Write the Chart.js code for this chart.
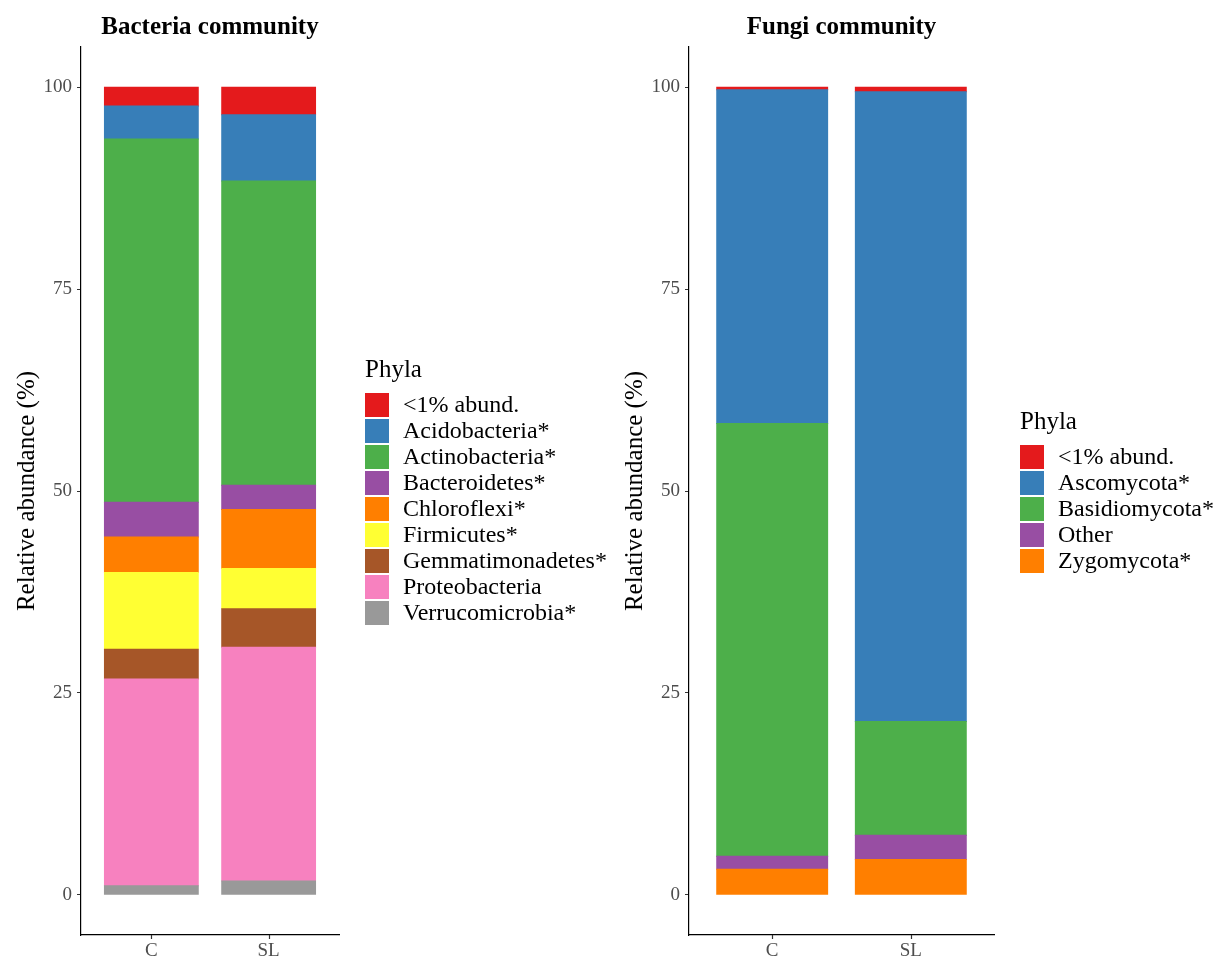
<!DOCTYPE html>
<html>
<head>
<meta charset="utf-8">
<title>Bacteria and fungi community composition</title>
<script src="https://cdn.jsdelivr.net/npm/chart.js@4.4.1/dist/chart.umd.min.js"></script>
<style>
  html, body { margin: 0; padding: 0; background: #ffffff; }
  #wrap { position: relative; width: 1217px; height: 960px; overflow: hidden; }
  .panel { position: absolute; top: 0; height: 960px; }
  #bacPanel { left: 0; width: 608px; }
  #funPanel { left: 608px; width: 609px; }
  canvas { display: block; }
</style>
</head>
<body>
<div id="wrap">
  <div class="panel" id="bacPanel"><canvas id="bacteriaChart" width="608" height="960"></canvas></div>
  <div class="panel" id="funPanel"><canvas id="fungiChart" width="609" height="960"></canvas></div>
</div>
<script>
// ---- shared categories and axis ticks ----
const samples = ['C', 'SL'];
const yTickValues = [0, 25, 50, 75, 100];

// ---- bacteria: relative abundance (%) per sample [C, SL] ----
const bacPhyla = ['<1% abund.', 'Acidobacteria*', 'Actinobacteria*', 'Bacteroidetes*', 'Chloroflexi*',
                  'Firmicutes*', 'Gemmatimonadetes*', 'Proteobacteria', 'Verrucomicrobia*'];
const bacColors = ['#E41A1C', '#377EB8', '#4DAF4A', '#984EA3', '#FF7F00',
                   '#FFFF33', '#A65628', '#F781BF', '#999999'];
const bacLowAbund        = [2.3, 3.4];
const bacAcidobacteria   = [4.1, 8.2];
const bacActinobacteria  = [45.0, 37.7];
const bacBacteroidetes   = [4.3, 3.0];
const bacChloroflexi     = [4.4, 7.3];
const bacFirmicutes      = [9.5, 5.0];
const bacGemmatimonadetes = [3.7, 4.75];
const bacProteobacteria  = [25.6, 28.95];
const bacVerrucomicrobia = [1.1, 1.7];
const bacValues = [bacLowAbund, bacAcidobacteria, bacActinobacteria, bacBacteroidetes, bacChloroflexi,
                   bacFirmicutes, bacGemmatimonadetes, bacProteobacteria, bacVerrucomicrobia];

// ---- fungi: relative abundance (%) per sample [C, SL] ----
const funPhyla = ['<1% abund.', 'Ascomycota*', 'Basidiomycota*', 'Other', 'Zygomycota*'];
const funColors = ['#E41A1C', '#377EB8', '#4DAF4A', '#984EA3', '#FF7F00'];
const funLowAbund     = [0.3, 0.55];
const funAscomycota   = [41.35, 78.0];
const funBasidiomycota = [53.6, 14.1];
const funOther        = [1.6, 3.0];
const funZygomycota   = [3.15, 4.35];
const funValues = [funLowAbund, funAscomycota, funBasidiomycota, funOther, funZygomycota];

const SERIF = '"Liberation Serif", "Times New Roman", Times, serif';

// Stacked datasets: the first legend entry sits on top of the stack,
// so datasets are added bottom-up (reverse of legend order).
function buildDatasets(names, colors, values) {
  const sets = names.map((name, i) => ({
    label: name,
    backgroundColor: colors[i],
    borderWidth: 0,
    inflateAmount: 0.5,
    data: values[i].map((v, j) => ({ x: j + 1, y: v })),
    categoryPercentage: 1.0,
    barPercentage: 0.8
  }));
  return sets.reverse();
}

// Short tick marks under the sample positions on the x axis.
const sampleTicks = {
  id: 'sampleTicks',
  afterDraw(chart) {
    const { ctx, chartArea, scales } = chart;
    ctx.save();
    ctx.strokeStyle = '#333333';
    ctx.lineWidth = 1.2;
    ctx.beginPath();
    samples.forEach((s, i) => {
      const px = Math.round(scales.x.getPixelForValue(i + 1)) + 0.5;
      ctx.moveTo(px, chartArea.bottom);
      ctx.lineTo(px, chartArea.bottom + 4);
    });
    ctx.stroke();
    ctx.restore();
  }
};

// Legend drawn to the right of the plot panel, in legend (top-first) order.
const phylaLegend = {
  id: 'phylaLegend',
  afterDraw(chart) {
    const { ctx, chartArea } = chart;
    const items = chart.data.datasets.slice().reverse();
    const pitch = 26, box = 24;
    const mid = (chartArea.top + chartArea.bottom) / 2;
    const x = chartArea.right + 26;
    const top = mid - items.length * pitch / 2 + 19;
    ctx.save();
    ctx.fillStyle = '#000000';
    ctx.textAlign = 'left';
    ctx.textBaseline = 'alphabetic';
    ctx.font = '25px ' + SERIF;
    ctx.fillText('Phyla', x, top - 16);
    ctx.font = '24px ' + SERIF;
    ctx.textBaseline = 'middle';
    items.forEach((ds, i) => {
      const y = top + i * pitch;
      ctx.fillStyle = ds.backgroundColor;
      ctx.fillRect(x, y, box, box);
      ctx.fillStyle = '#000000';
      ctx.fillText(ds.label, x + 38, y + box / 2 + 1);
    });
    ctx.restore();
  }
};

function makeChart(canvasId, titleText, names, colors, values, rightPad) {
  return new Chart(document.getElementById(canvasId), {
    type: 'bar',
    data: { datasets: buildDatasets(names, colors, values) },
    plugins: [sampleTicks, phylaLegend],
    options: {
      responsive: false,
      animation: false,
      devicePixelRatio: 1,
      layout: { padding: { top: 0, left: 0, bottom: 0, right: rightPad } },
      plugins: {
        legend: { display: false },
        tooltip: { enabled: false },
        title: {
          display: true,
          text: titleText,
          fullSize: false,
          color: '#000000',
          font: { family: SERIF, size: 25, weight: 'bold', lineHeight: 1.2 },
          padding: { top: 13, bottom: 4 }
        }
      },
      scales: {
        x: {
          type: 'linear',
          stacked: true,
          min: 0.4,
          max: 2.6,
          offset: false,
          afterBuildTicks(scale) { scale.ticks = samples.map((s, i) => ({ value: i + 1 })); },
          afterFit(scale) { scale.height = 25; },
          grid: { display: false, offset: false, drawOnChartArea: false, drawTicks: false },
          border: { display: true, color: '#000000', width: 1.2 },
          ticks: {
            color: '#4D4D4D',
            padding: 5,
            maxRotation: 0,
            autoSkip: false,
            font: { family: SERIF, size: 19 },
            callback: (v) => samples[Math.round(v) - 1]
          }
        },
        y: {
          type: 'linear',
          stacked: true,
          min: -5,
          max: 105,
          afterBuildTicks(scale) { scale.ticks = yTickValues.map(v => ({ value: v })); },
          afterFit(scale) { scale.width = 81; },
          grid: { display: true, offset: false, drawOnChartArea: false, drawTicks: true, tickLength: 4, color: '#333333', lineWidth: 1 },
          border: { display: true, color: '#000000', width: 1.2 },
          ticks: {
            color: '#4D4D4D',
            padding: 5,
            font: { family: SERIF, size: 19 },
            callback: (v) => String(v)
          },
          title: {
            display: true,
            text: 'Relative abundance (%)',
            color: '#000000',
            font: { family: SERIF, size: 25, lineHeight: 1.2 },
            padding: { top: 12, bottom: 0 }
          }
        }
      }
    }
  });
}

makeChart('bacteriaChart', 'Bacteria community', bacPhyla, bacColors, bacValues, 269);
makeChart('fungiChart', 'Fungi community', funPhyla, funColors, funValues, 223);
</script>
</body>
</html>
